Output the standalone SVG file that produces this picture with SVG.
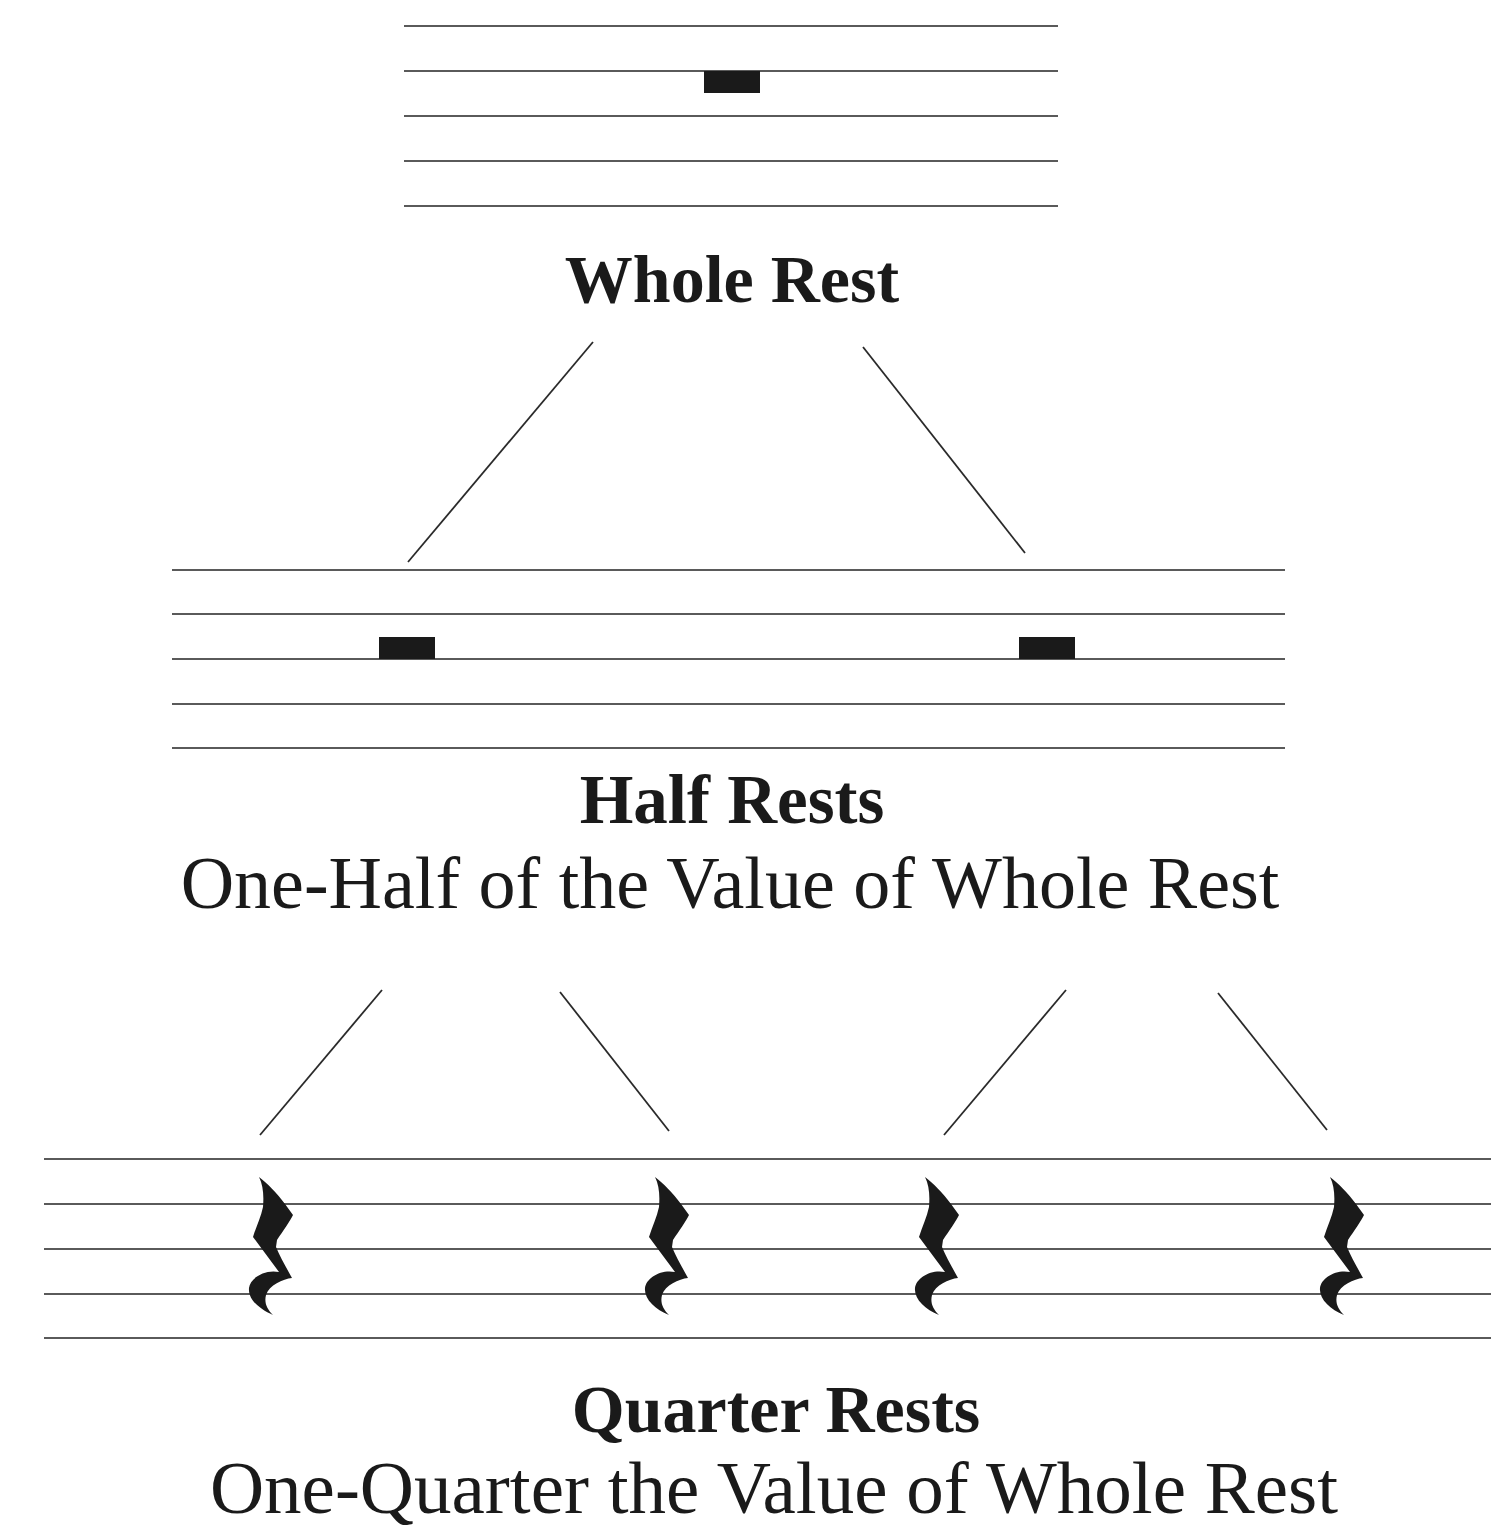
<svg xmlns="http://www.w3.org/2000/svg" width="1491" height="1530" viewBox="0 0 1491 1530">
<style>
.staff line{stroke:#5a5a5a;stroke-width:2.2}
.conn line{stroke:#2a2a2a;stroke-width:1.8}
.rest{fill:#1a1a1a}
.title{font-family:"Liberation Serif","Times New Roman",serif;font-weight:bold;fill:#1a1a1a;text-anchor:middle}
.sub{font-family:"Liberation Serif","Times New Roman",serif;fill:#1a1a1a;text-anchor:middle}
</style>
<defs>
<path id="qr" d="M 0 0 C 8 6, 18 16, 26 27 L 34 38 C 31 44, 24 54, 18 63 L 17 70 C 21 80, 27 90, 33 101 C 24 102, 10 108, 7 118 C 5 126, 8 132, 14 138 C 0 132, -11 122, -10 111 C -9 101, 6 92, 20 95 L -6 60 C -3 50, 2 40, 4 30 C 5 18, 4 8, 0 0 Z"/>
</defs>
<rect width="1491" height="1530" fill="#ffffff"/>
<g id="whole">
<g class="staff">
<line x1="404" y1="26" x2="1058" y2="26"/>
<line x1="404" y1="71" x2="1058" y2="71"/>
<line x1="404" y1="116" x2="1058" y2="116"/>
<line x1="404" y1="161" x2="1058" y2="161"/>
<line x1="404" y1="206" x2="1058" y2="206"/>
</g>
<rect class="rest" x="704" y="71" width="56" height="22"/>
<text class="title" x="732" y="302" font-size="68">Whole Rest</text>
</g>
<g id="half">
<g class="staff">
<line x1="172" y1="570" x2="1285" y2="570"/>
<line x1="172" y1="614" x2="1285" y2="614"/>
<line x1="172" y1="659" x2="1285" y2="659"/>
<line x1="172" y1="704" x2="1285" y2="704"/>
<line x1="172" y1="748" x2="1285" y2="748"/>
</g>
<rect class="rest" x="379" y="637" width="56" height="22"/>
<rect class="rest" x="1019" y="637" width="56" height="22"/>
<text class="title" x="732" y="823" font-size="69">Half Rests</text>
<text class="sub" x="730" y="908" font-size="74">One-Half of the Value of Whole Rest</text>
</g>
<g id="quarter">
<g class="staff">
<line x1="44" y1="1159" x2="1491" y2="1159"/>
<line x1="44" y1="1204" x2="1491" y2="1204"/>
<line x1="44" y1="1249" x2="1491" y2="1249"/>
<line x1="44" y1="1294" x2="1491" y2="1294"/>
<line x1="44" y1="1338" x2="1491" y2="1338"/>
</g>
<use class="rest" href="#qr" x="259" y="1177"/>
<use class="rest" href="#qr" x="655" y="1177"/>
<use class="rest" href="#qr" x="925" y="1177"/>
<use class="rest" href="#qr" x="1330" y="1177"/>
<text class="title" x="776" y="1432" font-size="68">Quarter Rests</text>
<text class="sub" x="774" y="1513" font-size="75">One-Quarter the Value of Whole Rest</text>
</g>
<g id="connectors" class="conn">
<line x1="593" y1="342" x2="408" y2="562"/>
<line x1="863" y1="347" x2="1025" y2="553"/>
<line x1="382" y1="990" x2="260" y2="1135"/>
<line x1="560" y1="992" x2="669" y2="1131"/>
<line x1="1066" y1="990" x2="944" y2="1135"/>
<line x1="1218" y1="993" x2="1327" y2="1130"/>
</g>
</svg>
